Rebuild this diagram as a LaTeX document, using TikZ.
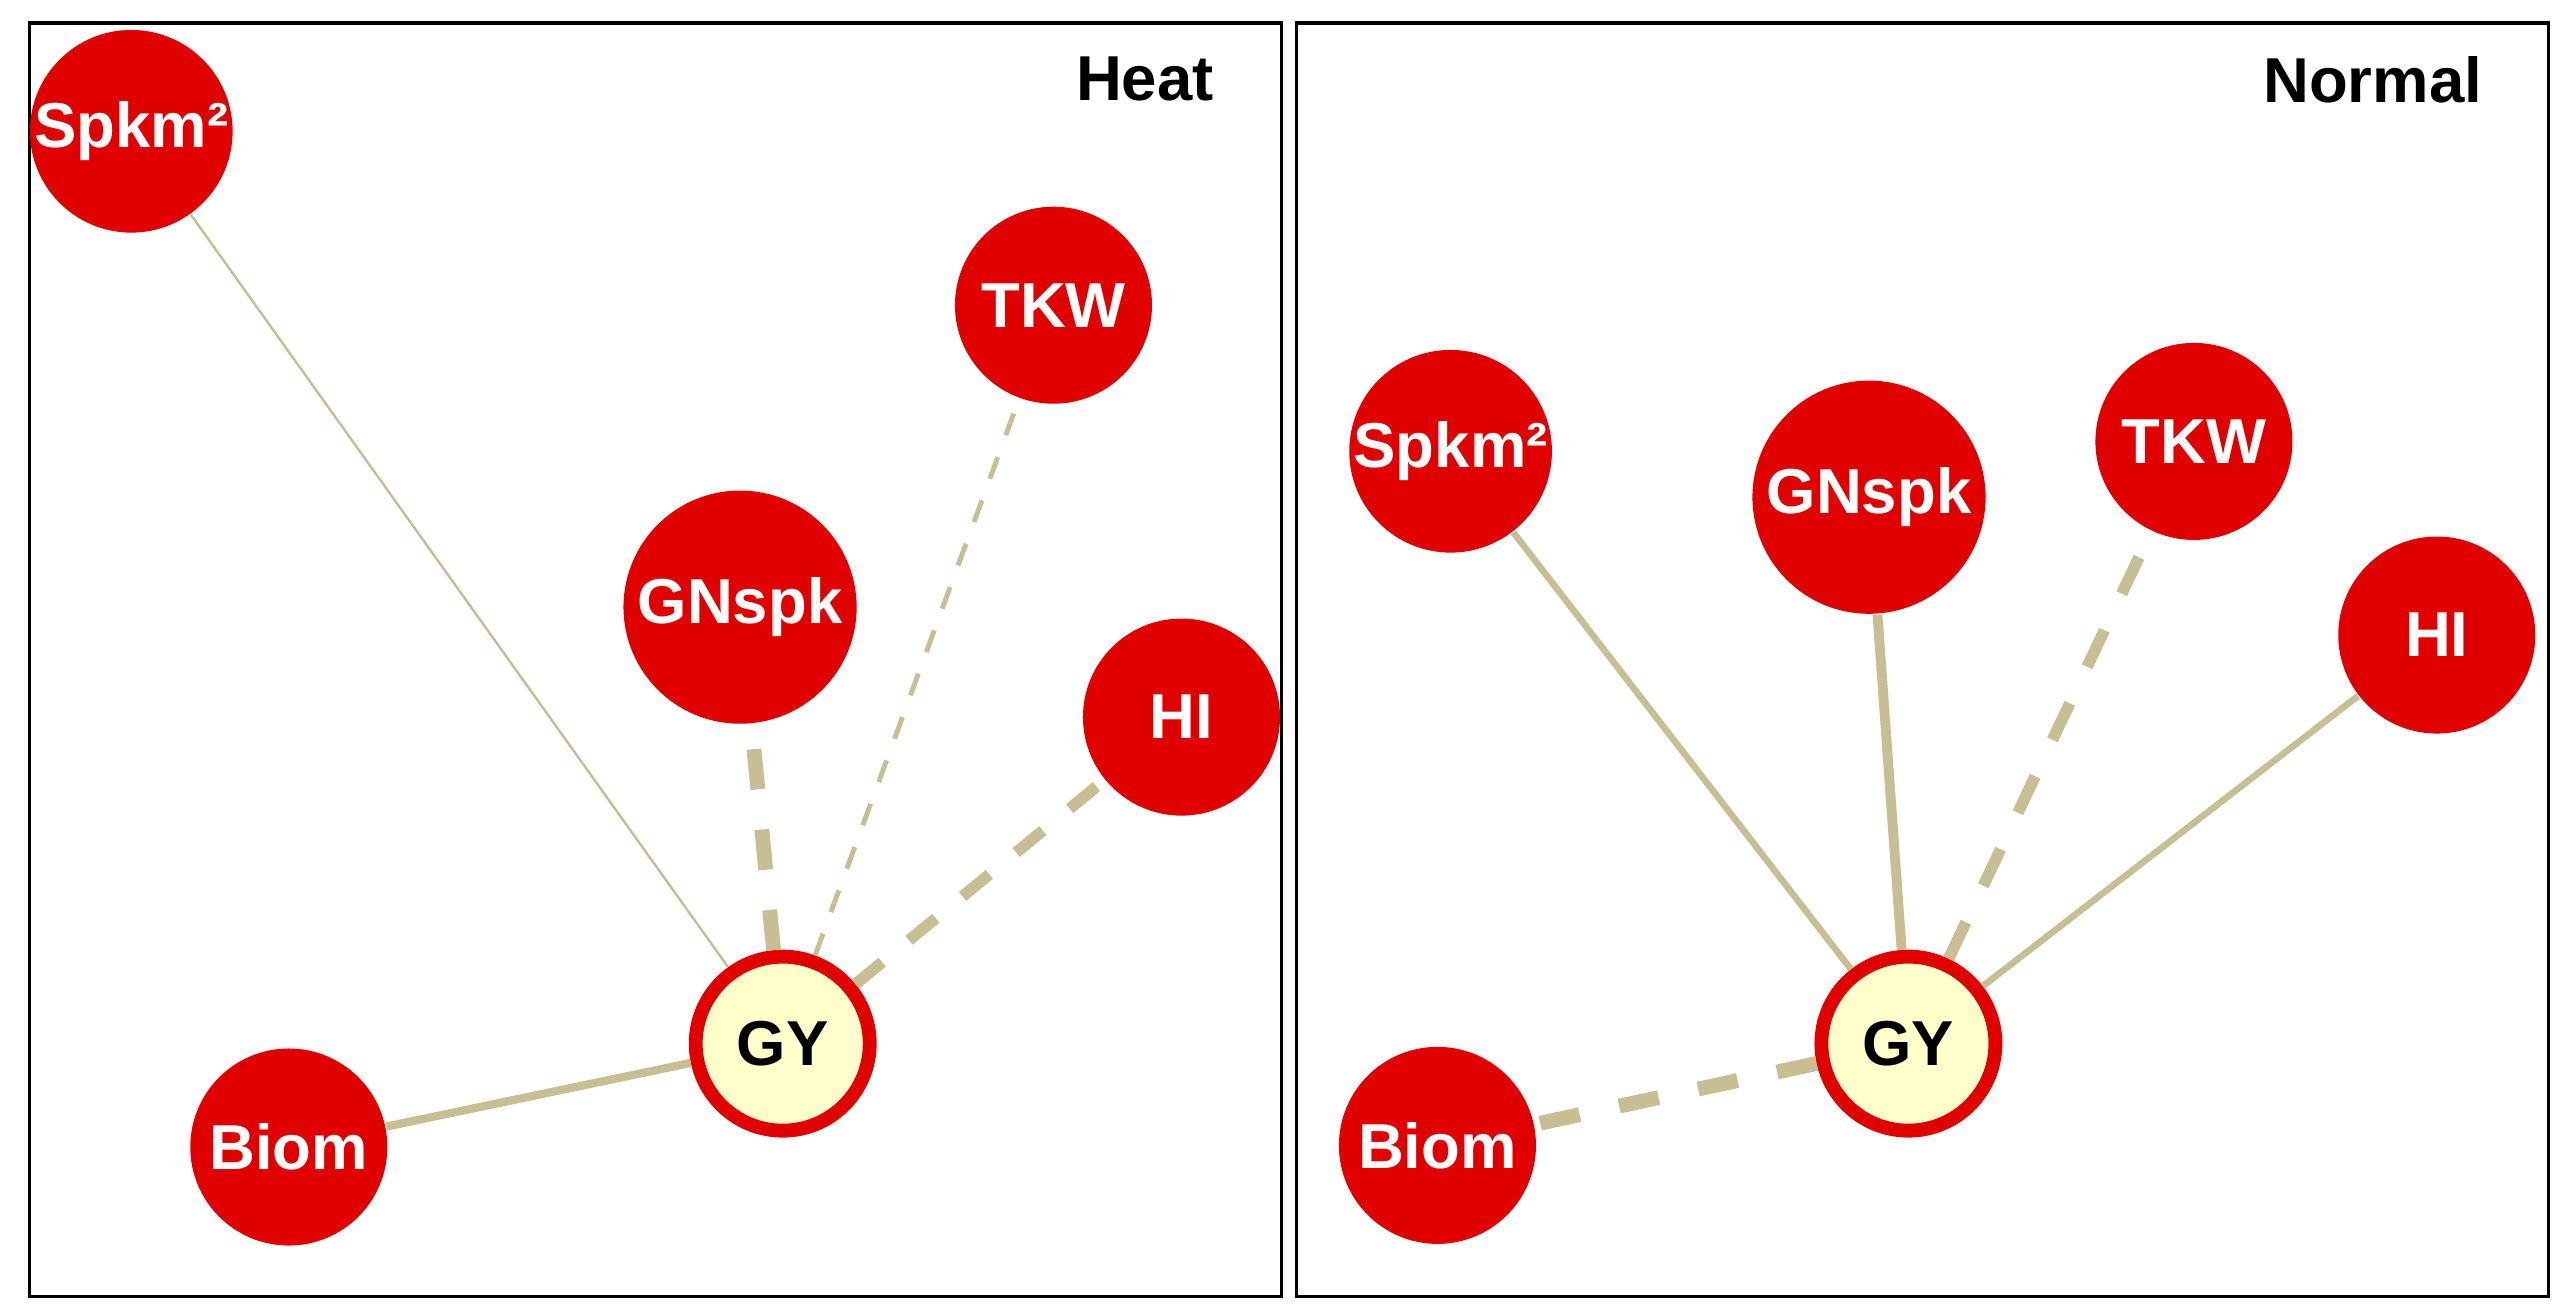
\documentclass[tikz,border=0pt]{standalone}
\usepackage{fontspec}
\setmainfont{Liberation Sans}
\definecolor{nred}{RGB}{224,0,0}
\definecolor{edge}{RGB}{200,190,148}
\definecolor{gyfill}{RGB}{255,255,204}
\begin{document}
\begin{tikzpicture}[x=0.01cm,y=-0.01cm,
  nd/.style={circle,fill=nred,text=white,font=\fontsize{11}{13}\selectfont\bfseries,inner sep=0pt,minimum size=#1*0.02cm},
  gy/.style={circle,fill=gyfill,draw=nred,line width=2.4pt,font=\fontsize{11}{13}\selectfont\bfseries,inner sep=0pt,minimum size=1.06cm},
  ed/.style={draw=edge,line width=#1*0.2845pt},
  dsh/.style={dash pattern=on #1 off #1}]
\useasboundingbox (0,0) rectangle (1568,800);
\fill[white] (0,0) rectangle (1568,800);
\draw[line width=0.6pt] (18,14) rectangle (781,790);
\draw[line width=0.6pt] (790,14) rectangle (1553,790);
\node[font=\fontsize{11}{13}\selectfont\bfseries,anchor=north east] (h) at (752,22) {Heat};
\node[font=\fontsize{11}{13}\selectfont\bfseries,anchor=north east] (n) at (1525,22) {Normal};
% left
\node[gy] (gy1) at (477,636) {GY};
\node[nd=60] (s1) at (80,80) {Spkm²};
\node[nd=60] (t1) at (642,186) {TKW};
\node[nd=71] (g1) at (451,370) {GNspk};
\node[nd=60] (hi1) at (720,437) {HI};
\node[nd=60] (b1) at (176,699) {Biom};
\begin{scope}[on background layer/.try]
\end{scope}
\draw[ed=1.5] (gy1) -- (s1);
\draw[ed=3,dsh=4pt] (gy1) -- (t1);
\draw[ed=9,dsh=7pt] (gy1) -- (g1);
\draw[ed=7,dsh=6pt] (gy1) -- (hi1);
\draw[ed=5] (gy1) -- (b1);
% right
\node[gy] (gy2) at (1163,636) {GY};
\node[nd=60] (s2) at (884,275) {Spkm²};
\node[nd=71] (g2) at (1139,303) {GNspk};
\node[nd=60] (t2) at (1337,269) {TKW};
\node[nd=60] (hi2) at (1485,387) {HI};
\node[nd=60] (b2) at (876,698) {Biom};
\draw[ed=4] (gy2) -- (s2);
\draw[ed=6] (gy2) -- (g2);
\draw[ed=7,dsh=7pt] (gy2) -- (t2);
\draw[ed=4] (gy2) -- (hi2);
\draw[ed=9,dsh=7pt] (gy2) -- (b2);
\end{tikzpicture}
\end{document}
